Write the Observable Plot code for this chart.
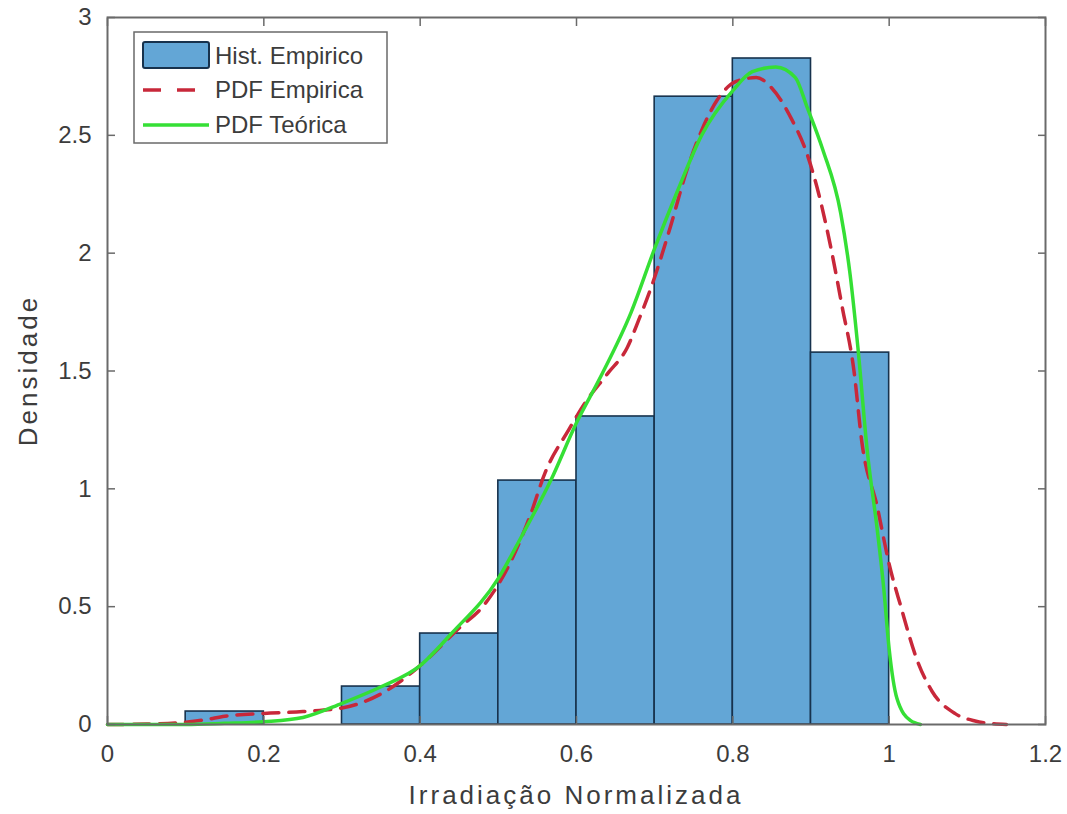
<!DOCTYPE html>
<html>
<head>
<meta charset="utf-8">
<script src="https://cdn.jsdelivr.net/npm/d3@7"></script>
<script src="https://cdn.jsdelivr.net/npm/@observablehq/plot@0.6"></script>
<style>
  body { margin: 0; background: #fff; }
  #chart { position: relative; width: 1067px; height: 814px; }
</style>
</head>
<body>
<div id="chart"></div>
<script>
// ---- Data ----
const binLeft  = [0, 0.1, 0.2, 0.3, 0.4, 0.5, 0.6, 0.7, 0.8, 0.9];
const binRight = [0.1, 0.2, 0.3, 0.4, 0.5, 0.6, 0.7, 0.8, 0.9, 1.0];
const binDensity = [0, 0.055, 0, 0.161, 0.386, 1.035, 1.307, 2.664, 2.826, 1.578];

const pdfEmpX = [0, 0.05, 0.1, 0.125, 0.15, 0.2, 0.25, 0.3, 0.35, 0.4, 0.45, 0.48, 0.52, 0.54, 0.56, 0.59, 0.61, 0.64, 0.665, 0.68, 0.695, 0.72, 0.74, 0.76, 0.78, 0.805, 0.83, 0.85, 0.875, 0.895, 0.91, 0.925, 0.94, 0.955, 0.965, 0.985, 1.0, 1.015, 1.035, 1.055, 1.085, 1.11, 1.13, 1.15];
const pdfEmpY = [0, 0.002, 0.01, 0.02, 0.035, 0.047, 0.055, 0.07, 0.13, 0.25, 0.41, 0.5, 0.72, 0.88, 1.07, 1.25, 1.36, 1.49, 1.6, 1.72, 1.85, 2.11, 2.34, 2.52, 2.65, 2.73, 2.745, 2.7, 2.57, 2.42, 2.25, 2.03, 1.77, 1.5, 1.2, 0.92, 0.68, 0.5, 0.28, 0.14, 0.045, 0.015, 0.004, 0];

const pdfTeoX = [0, 0.1, 0.15, 0.2, 0.25, 0.3, 0.35, 0.4, 0.44, 0.5, 0.53, 0.567, 0.6, 0.63, 0.67, 0.7, 0.73, 0.76, 0.8, 0.825, 0.855, 0.88, 0.895, 0.915, 0.938, 0.95, 0.96, 0.972, 0.985, 0.993, 1.0, 1.01, 1.027, 1.04];
const pdfTeoY = [0, 0.0, 0.005, 0.012, 0.03, 0.09, 0.16, 0.25, 0.386, 0.62, 0.8, 1.035, 1.28, 1.47, 1.75, 2.02, 2.27, 2.5, 2.69, 2.77, 2.79, 2.745, 2.62, 2.44, 2.17, 1.91, 1.6, 1.16, 0.82, 0.58, 0.32, 0.11, 0.017, 0];

const xTicks = [0, 0.2, 0.4, 0.6, 0.8, 1, 1.2];
const xTickLabels = ["0", "0.2", "0.4", "0.6", "0.8", "1", "1.2"];
const yTicks = [0, 0.5, 1, 1.5, 2, 2.5, 3];
const yTickLabels = ["0", "0.5", "1", "1.5", "2", "2.5", "3"];

const xTitle = "Irradiação Normalizada";
const yTitle = "Densidade";
const legendLabels = ["Hist. Empirico", "PDF Empirica", "PDF Teórica"];

// ---- Tables built from arrays ----
const bins = binLeft.map((x0, i) => ({x0, x1: binRight[i], density: binDensity[i]})).filter(d => d.density > 0);
const empData = pdfEmpX.map((x, i) => ({x, y: pdfEmpY[i]}));
const teoData = pdfTeoX.map((x, i) => ({x, y: pdfTeoY[i]}));

const barFill = "#63a6d6";
const barStroke = "#17324d";
const redColor = "#c8283a";
const greenColor = "#35df35";
const axisColor = "#6a6a6a";
const textColor = "#3c3c3c";
const font = "'Liberation Sans', Arial, Helvetica, sans-serif";

const plot = Plot.plot({
  width: 1067,
  height: 814,
  marginLeft: 107,
  marginRight: 22,
  marginTop: 17,
  marginBottom: 90,
  style: {fontFamily: font, fontSize: "24px", color: textColor, background: "#fff", overflow: "visible"},
  x: {domain: [0, 1.2]},
  y: {domain: [0, 3]},
  marks: [
    Plot.rect(bins, {x1: "x0", x2: "x1", y1: 0, y2: "density", fill: barFill, stroke: barStroke, strokeWidth: 1.6}),
    Plot.line(empData, {x: "x", y: "y", stroke: redColor, strokeWidth: 3.5, strokeDasharray: "16,10", curve: "monotone-x"}),
    Plot.line(teoData, {x: "x", y: "y", stroke: greenColor, strokeWidth: 3.5, curve: "monotone-x"}),
    Plot.frame({stroke: axisColor, strokeWidth: 2}),
    // tick labels
    Plot.axisX({ticks: xTicks, tickSize: 0, tickPadding: 20, tickFormat: d => xTickLabels[xTicks.indexOf(d)], label: null, fontSize: 24, fill: textColor}),
    Plot.axisY({ticks: yTicks, tickSize: 0, tickPadding: 16, tickFormat: d => yTickLabels[yTicks.indexOf(d)], label: null, fontSize: 24, fill: textColor}),
    // inward ticks on all four sides
    Plot.axisX({ticks: xTicks, anchor: "bottom", tickSize: -8, tickFormat: () => "", label: null, stroke: axisColor, strokeWidth: 1.5}),
    Plot.axisX({ticks: xTicks, anchor: "top", tickSize: -8, tickFormat: () => "", label: null, stroke: axisColor, strokeWidth: 1.5}),
    Plot.axisY({ticks: yTicks, anchor: "left", tickSize: -8, tickFormat: () => "", label: null, stroke: axisColor, strokeWidth: 1.5}),
    Plot.axisY({ticks: yTicks, anchor: "right", tickSize: -8, tickFormat: () => "", label: null, stroke: axisColor, strokeWidth: 1.5})
  ]
});

document.getElementById("chart").appendChild(plot);

// ---- Axis titles and legend, added inside the same SVG ----
const svg = d3.select(plot);
const xs = plot.scale("x"), ys = plot.scale("y");
const cx = (xs.range[0] + xs.range[1]) / 2;
const cy = (ys.range[0] + ys.range[1]) / 2;

svg.append("text")
  .attr("x", cx).attr("y", 804)
  .attr("text-anchor", "middle")
  .attr("font-family", font).attr("font-size", 26)
  .attr("letter-spacing", "3px")
  .attr("fill", textColor)
  .text(xTitle);

svg.append("text")
  .attr("transform", `translate(37,${cy}) rotate(-90)`)
  .attr("text-anchor", "middle")
  .attr("font-family", font).attr("font-size", 26)
  .attr("letter-spacing", "3px")
  .attr("fill", textColor)
  .text(yTitle);

const lg = svg.append("g").attr("transform", "translate(134,32)");
lg.append("rect").attr("x", 0).attr("y", 0).attr("width", 253).attr("height", 111)
  .attr("fill", "#fff").attr("stroke", axisColor).attr("stroke-width", 1.5);
lg.append("rect").attr("x", 9).attr("y", 10).attr("width", 66).attr("height", 26)
  .attr("fill", barFill).attr("stroke", barStroke).attr("stroke-width", 2).attr("rx", 2);
lg.append("line").attr("x1", 9).attr("x2", 75).attr("y1", 58).attr("y2", 58)
  .attr("stroke", redColor).attr("stroke-width", 3.5).attr("stroke-dasharray", "18,16");
lg.append("line").attr("x1", 9).attr("x2", 75).attr("y1", 93).attr("y2", 93)
  .attr("stroke", greenColor).attr("stroke-width", 3.5);
[32, 66, 101].forEach((y, i) => {
  lg.append("text").attr("x", 81).attr("y", y)
    .attr("text-anchor", "start")
    .attr("font-family", font).attr("font-size", 24)
    .attr("fill", textColor)
    .text(legendLabels[i]);
});
</script>
</body>
</html>
